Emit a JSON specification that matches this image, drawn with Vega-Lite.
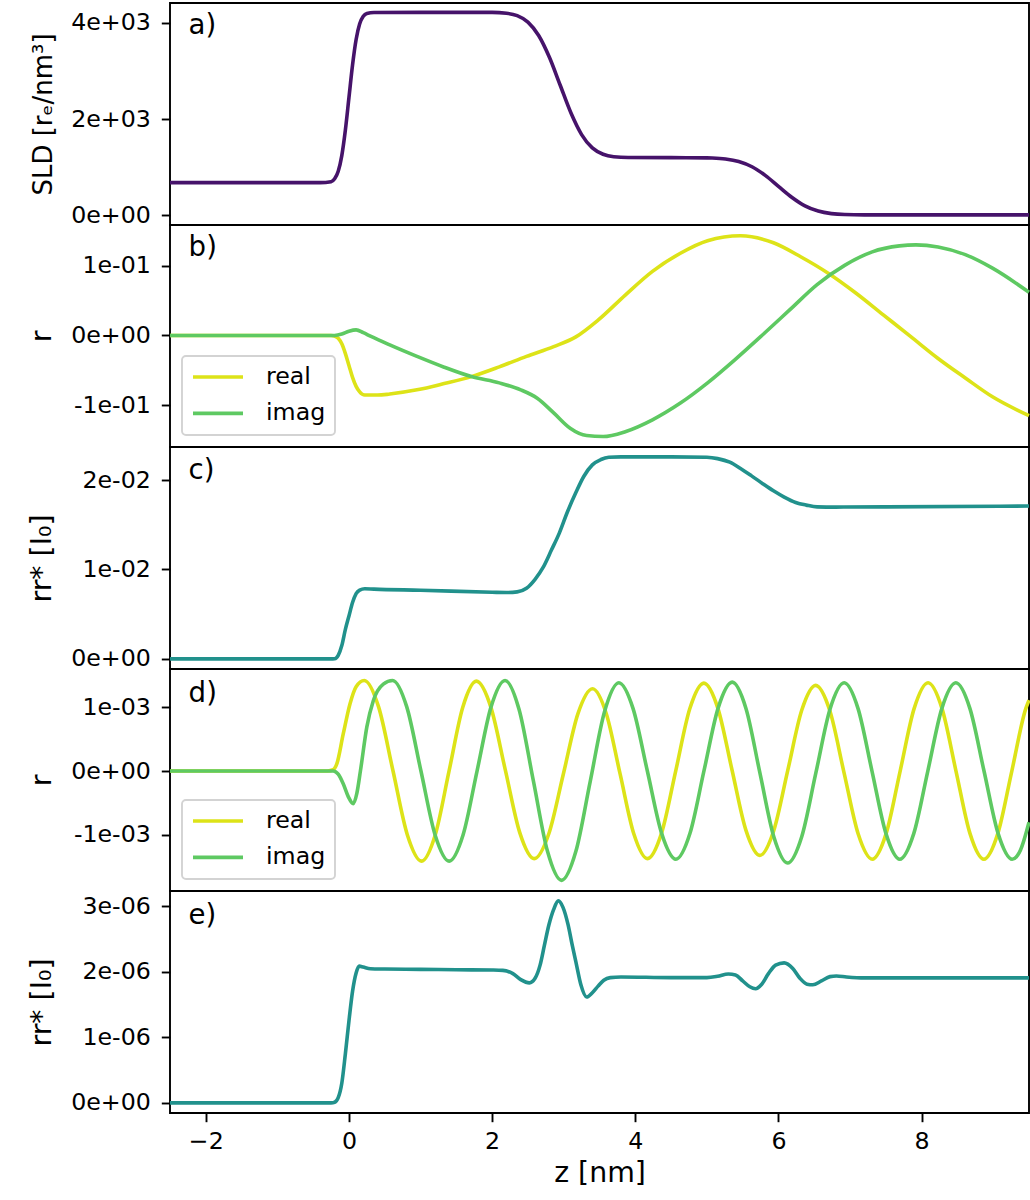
{
  "$schema": "https://vega.github.io/schema/vega-lite/v6.json",
  "padding": {"left": 26, "top": 2, "right": 0, "bottom": 0},
  "spacing": 0,
  "bounds": "flush",
  "resolve": {"scale": {"color": "independent", "x": "independent", "y": "independent"}, "legend": {"color": "independent"}},
  "config": {
    "font": "DejaVu Sans",
    "view": {"stroke": "black", "strokeWidth": 1.9},
    "axis": {"labelFont": "DejaVu Sans", "labelFontSize": 23.7, "labelColor": "black", "tickColor": "black", "tickSize": 8.7, "tickWidth": 1.9, "domain": false, "grid": false, "labelPadding": 11, "titleFont": "DejaVu Sans", "titleFontSize": 28.4, "titleFontWeight": "normal", "titleColor": "black", "titlePadding": 14},
    "legend": {"orient": "bottom-left", "offset": 12, "fillColor": "white", "strokeColor": "#d3d3d3", "strokeWidth": 1.9, "cornerRadius": 4, "padding": 9, "symbolType": "stroke", "symbolSize": 2500, "symbolStrokeWidth": 3.6, "labelFont": "DejaVu Sans", "labelFontSize": 23.7, "labelColor": "black", "labelOffset": 21, "rowPadding": 12.4, "clipHeight": 24}
  },
  "datasets": {
    "sld": [
      {"z": -2.5, "v": 680}, {"z": -0.4, "v": 680}, {"z": -0.25, "v": 701}, {"z": -0.2, "v": 761}, {"z": -0.15, "v": 917}, {"z": -0.1, "v": 1243}, {"z": -0.05, "v": 1774}, {"z": 0, "v": 2450}, {"z": 0.05, "v": 3126}, {"z": 0.1, "v": 3657}, {"z": 0.15, "v": 3983}, {"z": 0.2, "v": 4139}, {"z": 0.25, "v": 4199}, {"z": 0.35, "v": 4218}, {"z": 1.0, "v": 4220}, {"z": 2.0, "v": 4220}, {"z": 2.2, "v": 4202}, {"z": 2.35, "v": 4151}, {"z": 2.5, "v": 4018}, {"z": 2.65, "v": 3740}, {"z": 2.8, "v": 3287}, {"z": 2.95, "v": 2710}, {"z": 3.1, "v": 2133}, {"z": 3.25, "v": 1680}, {"z": 3.4, "v": 1402}, {"z": 3.55, "v": 1270}, {"z": 3.7, "v": 1218}, {"z": 3.9, "v": 1202}, {"z": 4.5, "v": 1200}, {"z": 5.0, "v": 1196}, {"z": 5.075, "v": 1193}, {"z": 5.26, "v": 1173}, {"z": 5.445, "v": 1120}, {"z": 5.63, "v": 1011}, {"z": 5.815, "v": 832}, {"z": 6.0, "v": 605}, {"z": 6.185, "v": 378}, {"z": 6.37, "v": 199}, {"z": 6.555, "v": 90}, {"z": 6.74, "v": 37}, {"z": 6.925, "v": 17}, {"z": 7.2, "v": 11}, {"z": 8.0, "v": 10}, {"z": 9.5, "v": 10}
    ],
    "rb": [
      {"z": -2.5, "v": 0, "s": "real"}, {"z": -0.25, "v": 0, "s": "real"}, {"z": -0.2, "v": -0.001, "s": "real"}, {"z": -0.15, "v": -0.004, "s": "real"}, {"z": -0.1, "v": -0.012, "s": "real"}, {"z": -0.05, "v": -0.026, "s": "real"}, {"z": 0, "v": -0.043, "s": "real"}, {"z": 0.05, "v": -0.06, "s": "real"}, {"z": 0.1, "v": -0.073, "s": "real"}, {"z": 0.15, "v": -0.081, "s": "real"}, {"z": 0.22, "v": -0.0855, "s": "real"}, {"z": 0.4, "v": -0.0855, "s": "real"}, {"z": 0.57, "v": -0.084, "s": "real"}, {"z": 0.95, "v": -0.078, "s": "real"}, {"z": 1.33, "v": -0.069, "s": "real"}, {"z": 1.71, "v": -0.059, "s": "real"}, {"z": 2.1, "v": -0.045, "s": "real"}, {"z": 2.48, "v": -0.03, "s": "real"}, {"z": 2.86, "v": -0.016, "s": "real"}, {"z": 3.17, "v": -0.002, "s": "real"}, {"z": 3.48, "v": 0.022, "s": "real"}, {"z": 3.86, "v": 0.058, "s": "real"}, {"z": 4.24, "v": 0.092, "s": "real"}, {"z": 4.63, "v": 0.118, "s": "real"}, {"z": 5.01, "v": 0.136, "s": "real"}, {"z": 5.47, "v": 0.143, "s": "real"}, {"z": 5.93, "v": 0.133, "s": "real"}, {"z": 6.31, "v": 0.113, "s": "real"}, {"z": 6.7, "v": 0.089, "s": "real"}, {"z": 7.08, "v": 0.061, "s": "real"}, {"z": 7.46, "v": 0.03, "s": "real"}, {"z": 7.84, "v": -0.001, "s": "real"}, {"z": 8.23, "v": -0.033, "s": "real"}, {"z": 8.61, "v": -0.061, "s": "real"}, {"z": 8.99, "v": -0.088, "s": "real"}, {"z": 9.5, "v": -0.115, "s": "real"},
      {"z": -2.5, "v": 0, "s": "imag"}, {"z": -0.2, "v": 0, "s": "imag"}, {"z": -0.1, "v": 0.002, "s": "imag"}, {"z": 0.0, "v": 0.006, "s": "imag"}, {"z": 0.1, "v": 0.008, "s": "imag"}, {"z": 0.2, "v": 0.004, "s": "imag"}, {"z": 0.3, "v": -0.001, "s": "imag"}, {"z": 0.57, "v": -0.0135, "s": "imag"}, {"z": 0.95, "v": -0.03, "s": "imag"}, {"z": 1.33, "v": -0.0455, "s": "imag"}, {"z": 1.71, "v": -0.059, "s": "imag"}, {"z": 2.1, "v": -0.068, "s": "imag"}, {"z": 2.4, "v": -0.078, "s": "imag"}, {"z": 2.63, "v": -0.09, "s": "imag"}, {"z": 2.86, "v": -0.111, "s": "imag"}, {"z": 3.09, "v": -0.133, "s": "imag"}, {"z": 3.32, "v": -0.1435, "s": "imag"}, {"z": 3.55, "v": -0.145, "s": "imag"}, {"z": 3.86, "v": -0.138, "s": "imag"}, {"z": 4.24, "v": -0.121, "s": "imag"}, {"z": 4.63, "v": -0.097, "s": "imag"}, {"z": 5.01, "v": -0.068, "s": "imag"}, {"z": 5.39, "v": -0.035, "s": "imag"}, {"z": 5.78, "v": 0.001, "s": "imag"}, {"z": 6.16, "v": 0.037, "s": "imag"}, {"z": 6.54, "v": 0.073, "s": "imag"}, {"z": 6.93, "v": 0.101, "s": "imag"}, {"z": 7.31, "v": 0.12, "s": "imag"}, {"z": 7.69, "v": 0.1285, "s": "imag"}, {"z": 7.92, "v": 0.13, "s": "imag"}, {"z": 8.23, "v": 0.127, "s": "imag"}, {"z": 8.61, "v": 0.116, "s": "imag"}, {"z": 8.99, "v": 0.0966, "s": "imag"}, {"z": 9.5, "v": 0.062, "s": "imag"}
    ],
    "rc": [
      {"z": -2.5, "v": 0}, {"z": -0.25, "v": 0}, {"z": -0.2, "v": 0.00002}, {"z": -0.15, "v": 0.0004}, {"z": -0.1, "v": 0.0015}, {"z": -0.05, "v": 0.0033}, {"z": 0, "v": 0.0048}, {"z": 0.05, "v": 0.0063}, {"z": 0.1, "v": 0.0073}, {"z": 0.15, "v": 0.0077}, {"z": 0.22, "v": 0.00785}, {"z": 0.35, "v": 0.0078}, {"z": 1.0, "v": 0.00768}, {"z": 2.0, "v": 0.00745}, {"z": 2.2, "v": 0.00742}, {"z": 2.35, "v": 0.0075}, {"z": 2.48, "v": 0.0079}, {"z": 2.6, "v": 0.0089}, {"z": 2.71, "v": 0.0102}, {"z": 2.83, "v": 0.0122}, {"z": 2.94, "v": 0.0141}, {"z": 3.05, "v": 0.0164}, {"z": 3.17, "v": 0.0186}, {"z": 3.28, "v": 0.0204}, {"z": 3.4, "v": 0.0217}, {"z": 3.52, "v": 0.0223}, {"z": 3.63, "v": 0.02255}, {"z": 3.8, "v": 0.0226}, {"z": 4.5, "v": 0.0226}, {"z": 5.0, "v": 0.02255}, {"z": 5.15, "v": 0.0224}, {"z": 5.32, "v": 0.022}, {"z": 5.47, "v": 0.0213}, {"z": 5.62, "v": 0.0205}, {"z": 5.78, "v": 0.0196}, {"z": 5.93, "v": 0.0188}, {"z": 6.08, "v": 0.0181}, {"z": 6.24, "v": 0.0175}, {"z": 6.39, "v": 0.0172}, {"z": 6.54, "v": 0.017}, {"z": 6.8, "v": 0.01698}, {"z": 7.5, "v": 0.017}, {"z": 9.5, "v": 0.0171}
    ],
    "rd": [
      {"z": -2.5, "v": 0, "s": "real"}, {"z": -0.3, "v": 0, "s": "real"}, {"z": -0.22, "v": 0.00002, "s": "real"}, {"z": -0.17, "v": 0.00011, "s": "real"}, {"z": -0.08, "v": 0.00058, "s": "real"}, {"z": 0.014, "v": 0.00105, "s": "real"}, {"z": 0.1, "v": 0.00132, "s": "real"}, {"z": 0.214, "v": 0.001417, "s": "real"}, {"z": 0.414, "v": 0.001003, "s": "real"}, {"z": 0.615, "v": 0.000004, "s": "real"}, {"z": 0.815, "v": -0.000996, "s": "real"}, {"z": 1.015, "v": -0.00141, "s": "real"}, {"z": 1.206, "v": -0.000997, "s": "real"}, {"z": 1.398, "v": -0.000002, "s": "real"}, {"z": 1.589, "v": 0.000994, "s": "real"}, {"z": 1.78, "v": 0.001406, "s": "real"}, {"z": 1.982, "v": 0.001, "s": "real"}, {"z": 2.184, "v": 0.000018, "s": "real"}, {"z": 2.386, "v": -0.000963, "s": "real"}, {"z": 2.588, "v": -0.00137, "s": "real"}, {"z": 2.792, "v": -0.000981, "s": "real"}, {"z": 2.996, "v": -0.000042, "s": "real"}, {"z": 3.199, "v": 0.000897, "s": "real"}, {"z": 3.403, "v": 0.001286, "s": "real"}, {"z": 3.595, "v": 0.000897, "s": "real"}, {"z": 3.787, "v": -0.000042, "s": "real"}, {"z": 3.979, "v": -0.000981, "s": "real"}, {"z": 4.171, "v": -0.00137, "s": "real"}, {"z": 4.368, "v": -0.000968, "s": "real"}, {"z": 4.565, "v": 0.000003, "s": "real"}, {"z": 4.761, "v": 0.000973, "s": "real"}, {"z": 4.958, "v": 0.001375, "s": "real"}, {"z": 5.154, "v": 0.00098, "s": "real"}, {"z": 5.349, "v": 0.000028, "s": "real"}, {"z": 5.545, "v": -0.000925, "s": "real"}, {"z": 5.74, "v": -0.00132, "s": "real"}, {"z": 5.935, "v": -0.00093, "s": "real"}, {"z": 6.13, "v": 0.00001, "s": "real"}, {"z": 6.325, "v": 0.00095, "s": "real"}, {"z": 6.52, "v": 0.00134, "s": "real"}, {"z": 6.718, "v": 0.000942, "s": "real"}, {"z": 6.915, "v": -0.00002, "s": "real"}, {"z": 7.113, "v": -0.000982, "s": "real"}, {"z": 7.31, "v": -0.00138, "s": "real"}, {"z": 7.505, "v": -0.000976, "s": "real"}, {"z": 7.7, "v": 0, "s": "real"}, {"z": 7.895, "v": 0.000976, "s": "real"}, {"z": 8.09, "v": 0.00138, "s": "real"}, {"z": 8.285, "v": 0.000976, "s": "real"}, {"z": 8.48, "v": 0, "s": "real"}, {"z": 8.675, "v": -0.000976, "s": "real"}, {"z": 8.87, "v": -0.00138, "s": "real"}, {"z": 9.065, "v": -0.000976, "s": "real"}, {"z": 9.26, "v": 0, "s": "real"}, {"z": 9.455, "v": 0.000976, "s": "real"}, {"z": 9.5, "v": 0.00111, "s": "real"},
      {"z": -2.5, "v": 0, "s": "imag"}, {"z": -0.22, "v": 0, "s": "imag"}, {"z": -0.15, "v": -0.00005, "s": "imag"}, {"z": -0.08, "v": -0.0002, "s": "imag"}, {"z": -0.01, "v": -0.0004, "s": "imag"}, {"z": 0.06, "v": -0.00051, "s": "imag"}, {"z": 0.11, "v": -0.00035, "s": "imag"}, {"z": 0.16, "v": 0.0, "s": "imag"}, {"z": 0.25, "v": 0.00069, "s": "imag"}, {"z": 0.34, "v": 0.0011, "s": "imag"}, {"z": 0.48, "v": 0.00136, "s": "imag"}, {"z": 0.61, "v": 0.001417, "s": "imag"}, {"z": 0.8075, "v": 0.001003, "s": "imag"}, {"z": 1.005, "v": 0.000004, "s": "imag"}, {"z": 1.2025, "v": -0.000996, "s": "imag"}, {"z": 1.4, "v": -0.00141, "s": "imag"}, {"z": 1.595, "v": -0.000996, "s": "imag"}, {"z": 1.79, "v": 0.000004, "s": "imag"}, {"z": 1.985, "v": 0.001003, "s": "imag"}, {"z": 2.18, "v": 0.001417, "s": "imag"}, {"z": 2.3775, "v": 0.000959, "s": "imag"}, {"z": 2.575, "v": -0.000147, "s": "imag"}, {"z": 2.7725, "v": -0.001252, "s": "imag"}, {"z": 2.97, "v": -0.00171, "s": "imag"}, {"z": 3.17, "v": -0.001257, "s": "imag"}, {"z": 3.37, "v": -0.000165, "s": "imag"}, {"z": 3.57, "v": 0.000927, "s": "imag"}, {"z": 3.77, "v": 0.00138, "s": "imag"}, {"z": 3.969, "v": 0.000976, "s": "imag"}, {"z": 4.1685, "v": 0, "s": "imag"}, {"z": 4.368, "v": -0.000976, "s": "imag"}, {"z": 4.567, "v": -0.00138, "s": "imag"}, {"z": 4.764, "v": -0.000974, "s": "imag"}, {"z": 4.96, "v": 0.000005, "s": "imag"}, {"z": 5.157, "v": 0.000984, "s": "imag"}, {"z": 5.354, "v": 0.00139, "s": "imag"}, {"z": 5.547, "v": 0.000975, "s": "imag"}, {"z": 5.74, "v": -0.000025, "s": "imag"}, {"z": 5.934, "v": -0.001025, "s": "imag"}, {"z": 6.127, "v": -0.00144, "s": "imag"}, {"z": 6.325, "v": -0.001027, "s": "imag"}, {"z": 6.5225, "v": -0.00003, "s": "imag"}, {"z": 6.72, "v": 0.000967, "s": "imag"}, {"z": 6.918, "v": 0.00138, "s": "imag"}, {"z": 7.112, "v": 0.000976, "s": "imag"}, {"z": 7.3065, "v": 0, "s": "imag"}, {"z": 7.501, "v": -0.000976, "s": "imag"}, {"z": 7.695, "v": -0.00138, "s": "imag"}, {"z": 7.891, "v": -0.000976, "s": "imag"}, {"z": 8.0865, "v": 0, "s": "imag"}, {"z": 8.282, "v": 0.000976, "s": "imag"}, {"z": 8.478, "v": 0.00138, "s": "imag"}, {"z": 8.675, "v": 0.000976, "s": "imag"}, {"z": 8.8715, "v": 0, "s": "imag"}, {"z": 9.068, "v": -0.000976, "s": "imag"}, {"z": 9.265, "v": -0.00138, "s": "imag"}, {"z": 9.38, "v": -0.001238, "s": "imag"}, {"z": 9.5, "v": -0.0008, "s": "imag"}
    ],
    "re": [
      {"z": -2.5, "v": 0}, {"z": -0.25, "v": 0}, {"z": -0.2, "v": 0.01e-6}, {"z": -0.15, "v": 0.08e-6}, {"z": -0.1, "v": 0.3e-6}, {"z": -0.05, "v": 0.75e-6}, {"z": 0, "v": 1.25e-6}, {"z": 0.05, "v": 1.7e-6}, {"z": 0.1, "v": 1.98e-6}, {"z": 0.144, "v": 2.085e-6}, {"z": 0.2, "v": 2.07e-6}, {"z": 0.3, "v": 2.045e-6}, {"z": 0.5, "v": 2.04e-6}, {"z": 1.0, "v": 2.035e-6}, {"z": 1.5, "v": 2.03e-6}, {"z": 2.0, "v": 2.025e-6}, {"z": 2.15, "v": 2.02e-6}, {"z": 2.29, "v": 1.97e-6}, {"z": 2.4, "v": 1.88e-6}, {"z": 2.52, "v": 1.83e-6}, {"z": 2.6, "v": 1.9e-6}, {"z": 2.67, "v": 2.1e-6}, {"z": 2.73, "v": 2.4e-6}, {"z": 2.79, "v": 2.7e-6}, {"z": 2.86, "v": 2.95e-6}, {"z": 2.925, "v": 3.08e-6}, {"z": 2.99, "v": 2.98e-6}, {"z": 3.06, "v": 2.72e-6}, {"z": 3.12, "v": 2.4e-6}, {"z": 3.17, "v": 2.15e-6}, {"z": 3.24, "v": 1.8e-6}, {"z": 3.32, "v": 1.614e-6}, {"z": 3.4, "v": 1.68e-6}, {"z": 3.48, "v": 1.78e-6}, {"z": 3.56, "v": 1.87e-6}, {"z": 3.65, "v": 1.91e-6}, {"z": 3.8, "v": 1.92e-6}, {"z": 4.5, "v": 1.91e-6}, {"z": 5.0, "v": 1.91e-6}, {"z": 5.15, "v": 1.93e-6}, {"z": 5.3, "v": 1.965e-6}, {"z": 5.4, "v": 1.95e-6}, {"z": 5.5, "v": 1.86e-6}, {"z": 5.6, "v": 1.77e-6}, {"z": 5.68, "v": 1.74e-6}, {"z": 5.76, "v": 1.8e-6}, {"z": 5.86, "v": 1.97e-6}, {"z": 5.96, "v": 2.1e-6}, {"z": 6.08, "v": 2.135e-6}, {"z": 6.2, "v": 2.05e-6}, {"z": 6.3, "v": 1.9e-6}, {"z": 6.4, "v": 1.81e-6}, {"z": 6.48, "v": 1.8e-6}, {"z": 6.6, "v": 1.86e-6}, {"z": 6.72, "v": 1.925e-6}, {"z": 6.81, "v": 1.935e-6}, {"z": 6.95, "v": 1.92e-6}, {"z": 7.2, "v": 1.905e-6}, {"z": 8.0, "v": 1.905e-6}, {"z": 9.5, "v": 1.905e-6}
    ]
  },
  "vconcat": [
    {
      "width": 859, "height": 222,
      "layer": [
        {"data": {"name": "sld"}, "mark": {"type": "line", "interpolate": "monotone", "color": "#46136a", "strokeWidth": 3.6},
          "encoding": {
            "x": {"field": "z", "type": "quantitative", "scale": {"domain": [-2.5, 9.5], "nice": false, "zero": false}, "axis": null},
            "y": {"field": "v", "type": "quantitative", "scale": {"domain": [-200, 4415], "nice": false, "zero": false}, "axis": {"values": [0, 2000, 4000], "labelExpr": "replace(replace(replace(format(datum.value, '.0e'), 'e+', 'e+0'), 'e-', 'e-0'), '−', '-')", "title": "SLD [rₑ/nm³]", "titleFontSize": 26}}
          }},
        {"data": {"values": [{"label": "a)"}]}, "mark": {"type": "text", "align": "left", "baseline": "middle", "fontSize": 27.6, "font": "DejaVu Sans", "color": "black"},
          "encoding": {"text": {"field": "label"}, "x": {"datum": -2.24}, "y": {"datum": 3927}}}
      ]
    },
    {
      "width": 859, "height": 222,
      "layer": [
        {"data": {"name": "rb"}, "mark": {"type": "line", "interpolate": "monotone", "strokeWidth": 3.6},
          "encoding": {
            "x": {"field": "z", "type": "quantitative", "scale": {"domain": [-2.5, 9.5], "nice": false, "zero": false}, "axis": null},
            "y": {"field": "v", "type": "quantitative", "scale": {"domain": [-0.16, 0.1585], "nice": false, "zero": false}, "axis": {"values": [-0.1, 0, 0.1], "labelExpr": "replace(replace(replace(format(datum.value, '.0e'), 'e+', 'e+0'), 'e-', 'e-0'), '−', '-')", "title": "r"}},
            "color": {"field": "s", "type": "nominal", "scale": {"domain": ["real", "imag"], "range": ["#dde318", "#5ec962"]}, "legend": {"title": null}}
          }},
        {"data": {"values": [{"label": "b)"}]}, "mark": {"type": "text", "align": "left", "baseline": "middle", "fontSize": 27.6, "font": "DejaVu Sans", "color": "black"},
          "encoding": {"text": {"field": "label"}, "x": {"datum": -2.24}, "y": {"datum": 0.1253}}}
      ]
    },
    {
      "width": 859, "height": 222,
      "layer": [
        {"data": {"name": "rc"}, "mark": {"type": "line", "interpolate": "monotone", "color": "#21918c", "strokeWidth": 3.6},
          "encoding": {
            "x": {"field": "z", "type": "quantitative", "scale": {"domain": [-2.5, 9.5], "nice": false, "zero": false}, "axis": null},
            "y": {"field": "v", "type": "quantitative", "scale": {"domain": [-0.00113, 0.0237], "nice": false, "zero": false}, "axis": {"values": [0, 0.01, 0.02], "labelExpr": "replace(replace(replace(format(datum.value, '.0e'), 'e+', 'e+0'), 'e-', 'e-0'), '−', '-')", "title": "rr* [I₀]"}}
          }},
        {"data": {"values": [{"label": "c)"}]}, "mark": {"type": "text", "align": "left", "baseline": "middle", "fontSize": 27.6, "font": "DejaVu Sans", "color": "black"},
          "encoding": {"text": {"field": "label"}, "x": {"datum": -2.24}, "y": {"datum": 0.02104}}}
      ]
    },
    {
      "width": 859, "height": 222,
      "layer": [
        {"data": {"name": "rd"}, "mark": {"type": "line", "interpolate": "monotone", "strokeWidth": 3.6},
          "encoding": {
            "x": {"field": "z", "type": "quantitative", "scale": {"domain": [-2.5, 9.5], "nice": false, "zero": false}, "axis": null},
            "y": {"field": "v", "type": "quantitative", "scale": {"domain": [-0.001877, 0.001596], "nice": false, "zero": false}, "axis": {"values": [-0.001, 0, 0.001], "labelExpr": "replace(replace(replace(format(datum.value, '.0e'), 'e+', 'e+0'), 'e-', 'e-0'), '−', '-')", "title": "r"}},
            "color": {"field": "s", "type": "nominal", "scale": {"domain": ["real", "imag"], "range": ["#dde318", "#5ec962"]}, "legend": {"title": null}}
          }},
        {"data": {"values": [{"label": "d)"}]}, "mark": {"type": "text", "align": "left", "baseline": "middle", "fontSize": 27.6, "font": "DejaVu Sans", "color": "black"},
          "encoding": {"text": {"field": "label"}, "x": {"datum": -2.24}, "y": {"datum": 0.001208}}}
      ]
    },
    {
      "width": 859, "height": 222,
      "layer": [
        {"data": {"name": "re"}, "mark": {"type": "line", "interpolate": "monotone", "color": "#21918c", "strokeWidth": 3.6},
          "encoding": {
            "x": {"field": "z", "type": "quantitative", "scale": {"domain": [-2.5, 9.5], "nice": false, "zero": false}, "axis": {"values": [-2, 0, 2, 4, 6, 8], "format": "d", "title": "z [nm]", "labelPadding": 8, "titlePadding": 6}},
            "y": {"field": "v", "type": "quantitative", "scale": {"domain": [-0.154e-6, 3.23e-6], "nice": false, "zero": false}, "axis": {"values": [0, 1e-6, 2e-6, 3e-6], "labelExpr": "replace(replace(replace(format(datum.value, '.0e'), 'e+', 'e+0'), 'e-', 'e-0'), '−', '-')", "title": "rr* [I₀]"}}
          }},
        {"data": {"values": [{"label": "e)"}]}, "mark": {"type": "text", "align": "left", "baseline": "middle", "fontSize": 27.6, "font": "DejaVu Sans", "color": "black"},
          "encoding": {"text": {"field": "label"}, "x": {"datum": -2.24}, "y": {"datum": 2.854e-6}}}
      ]
    }
  ]
}
